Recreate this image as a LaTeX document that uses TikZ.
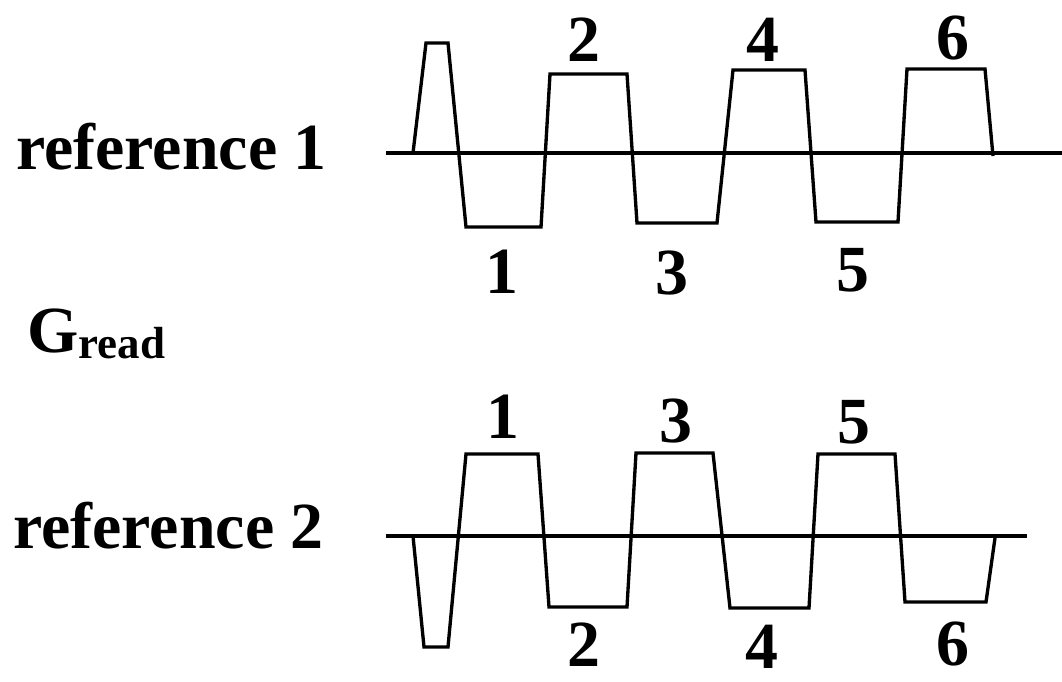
\documentclass[tikz,border=0pt]{standalone}
\usepackage{fontspec}
\setmainfont{Liberation Serif}
\usepackage{tikz}
\usetikzlibrary{positioning}

\tikzset{
  wave/.style={line width=1.9pt, line join=miter},
  axis/.style={line width=1.9pt},
  pulselabel/.style={font=\fontsize{37.5}{45}\selectfont\bfseries, inner sep=0pt}
}

\begin{document}
\begin{tikzpicture}[x=0.02cm, y=-0.02cm, every node/.style={font=\fontsize{37.5}{45}\selectfont\bfseries}]
  \useasboundingbox (0,0) rectangle (1062,681);
  % Row labels
  \node[anchor=base west, inner sep=0pt] (ref1) at (16,169) {reference 1};
  \node[anchor=base west, inner sep=0pt] (ref2) at (13,548) {reference 2};
  \node[anchor=base west, inner sep=0pt] (gread) at (27,352)
    {G\raisebox{-0.12cm}{\fontsize{25.6}{30}\selectfont read}};
  % Reference 1 waveform
  \draw[axis] (386,153) -- (1062,153);
  \draw[wave] (413,153) -- (426,43) -- (448,43) -- (466,227) -- (541,227)
    -- (550,74) -- (627,74) -- (637,223) -- (717,223) -- (733,70) -- (805,70)
    -- (816,222) -- (898,222) -- (907,69) -- (985,69) -- (993,156);
  \foreach \n/\x/\y in {2/584/40, 4/763/40, 6/953/38, 1/502/272, 3/672/273, 5/853/270}{
    \node[pulselabel] (a\n) at (\x,\y) {\n};
  }
  % Reference 2 waveform
  \draw[axis] (386,536) -- (1027,536);
  \draw[wave] (413,536) -- (424,647) -- (448,647) -- (466,454) -- (538,454)
    -- (549,607) -- (627,607) -- (636,453) -- (713,453) -- (730,608) -- (809,608)
    -- (818,454) -- (895,454) -- (905,602) -- (986,602) -- (995,538);
  \foreach \n/\x/\y in {1/503/417, 3/676/421, 5/854/422, 2/584/645, 4/762/647, 6/953/644}{
    \node[pulselabel] (b\n) at (\x,\y) {\n};
  }
\end{tikzpicture}
\end{document}
